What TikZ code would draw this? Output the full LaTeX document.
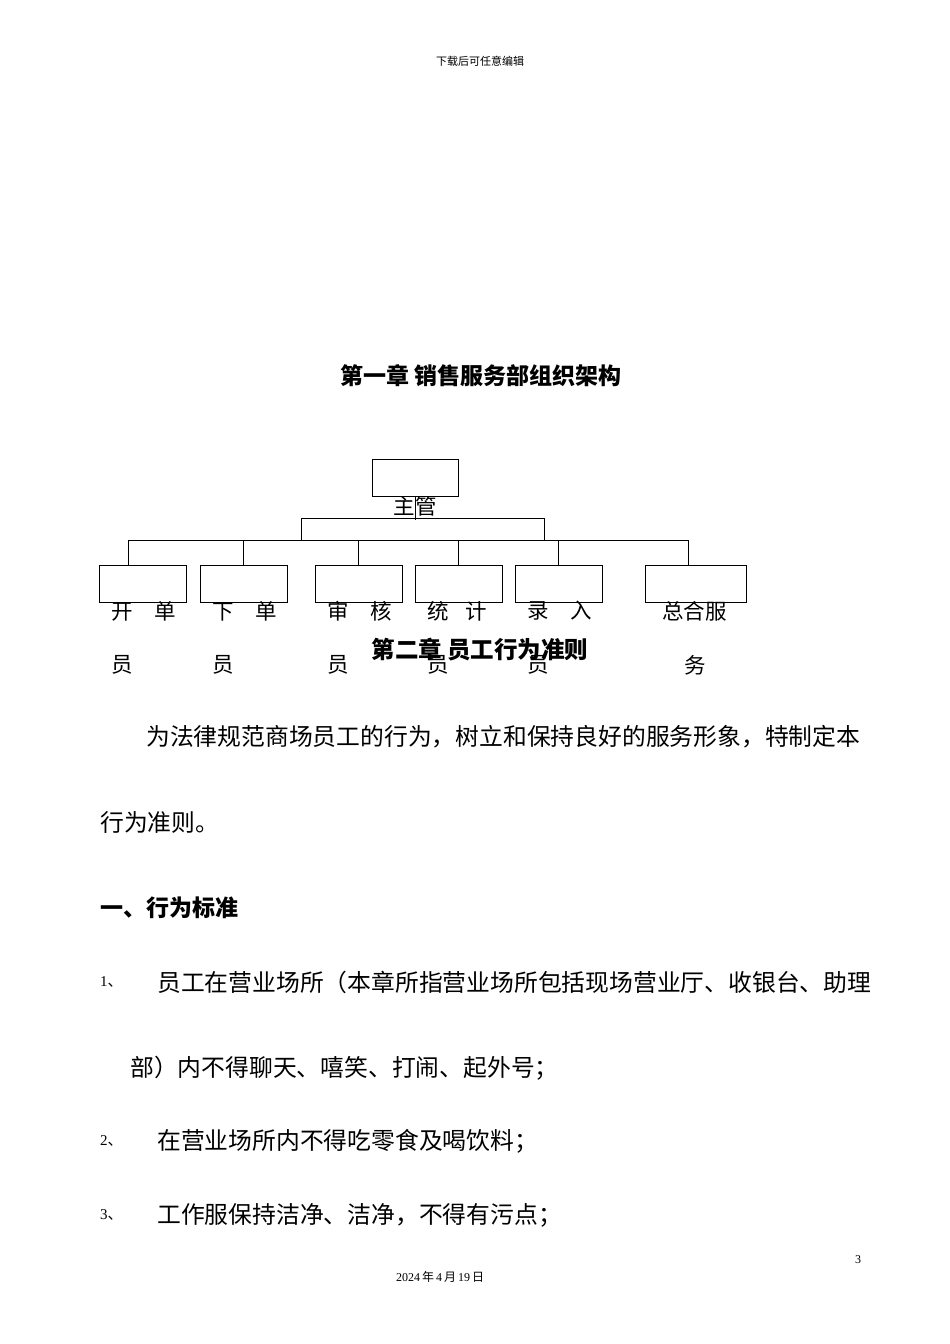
\documentclass[tikz,border=0pt]{standalone}
\usepackage{fontspec}
\setmainfont{Liberation Serif}
\newfontfamily\cjk{Noto Sans CJK SC}
\begin{document}
\begin{tikzpicture}[x=1pt,y=-1pt,
  bx/.style={draw,line width=0.9pt,inner sep=0pt,anchor=north west},
  ln/.style={line width=0.9pt},
  body/.style={font=\cjk\fontsize{23.8}{23.8}\selectfont,inner sep=0pt},
  lbl/.style={font=\cjk\fontsize{21.5}{21.5}\selectfont,inner sep=0pt},
  num/.style={font=\fontsize{15}{15}\selectfont,inner sep=0pt,anchor=west}]
\useasboundingbox[fill=white] (0,0) rectangle (950,1344);
\node[font=\cjk\fontsize{11}{11}\selectfont] (hd) at (480,61) {下载后可任意编辑};
\node[font=\cjk\bfseries\fontsize{23}{23}\selectfont] (t1) at (481,376) {第一章 销售服务部组织架构};
% org chart
\node[bx,minimum width=86pt,minimum height=37pt] (top) at (372,459) {};
\node[lbl] (topl) at (415,506) {主管};
\coordinate (tj) at (top.south |- 0,520);
\draw[ln] (top.south) -- (tj);
\coordinate (ua) at (301,518); \coordinate (ub) at (544,518);
\draw[ln] (ua) -- (ub);
\coordinate (ua2) at (301,541); \coordinate (ub2) at (544,541);
\draw[ln] (ua) -- (ua2); \draw[ln] (ub) -- (ub2);
\coordinate (la) at (128,540); \coordinate (lb) at (688,540);
\draw[ln] (la) -- (lb);
\foreach \n/\x/\w/\c/\a/\b/\o/\p in {b1/99/87/128/开\hspace{1em}单/员/12/12, b2/200/87/243/下\hspace{1em}单/员/12/12, b3/315/87/358/审\hspace{1em}核/员/12/12, b4/415/87/458/统\hspace{0.8em}计/员/12/12, b5/515/87/558/录\hspace{1em}入/员/12/12, b6/645/101/688/总合服/务/17/39}{
  \node[bx,minimum width=\w pt,minimum height=37pt] (\n) at (\x,565) {};
  \coordinate (\n t) at (\c,540);
  \draw[ln] (\n t) -- (\c,565);
  \node[lbl,anchor=west] (\n l1) at (\x+\o,611) {\a};
  \node[lbl,anchor=west] (\n l2) at (\x+\p,665) {\b};
}
\node[font=\cjk\bfseries\fontsize{23.5}{23.5}\selectfont] (t2) at (480,650) {第二章\ 员工行为准则};
% body
\node[body,anchor=west] (p1) at (146,737) {为法律规范商场员工的行为，树立和保持良好的服务形象，特制定本};
\node[body,anchor=west] (p2) at (100,822) {行为准则。};
\node[anchor=west,inner sep=0pt,font=\cjk\bfseries\fontsize{23}{23}\selectfont] (s1) at (100,908) {一、行为标准};
\node[num] (n1) at (100,982) {1{\cjk 、}};
\node[body,anchor=west] (i1) at (157,982) {员工在营业场所（本章所指营业场所包括现场营业厅、收银台、助理};
\node[body,anchor=west] (i1b) at (130,1068) {部）内不得聊天、嘻笑、打闹、起外号；};
\node[num] (n2) at (100,1141) {2{\cjk 、}};
\node[body,anchor=west] (i2) at (157,1141) {在营业场所内不得吃零食及喝饮料；};
\node[num] (n3) at (100,1215) {3{\cjk 、}};
\node[body,anchor=west] (i3) at (157,1215) {工作服保持洁净、洁净，不得有污点；};
\node[font=\fontsize{12}{12}\selectfont] (pg) at (858,1260) {3};
\node[font=\fontsize{12}{12}\selectfont] (dt) at (440,1277) {2024\,{\cjk 年}\,4\,{\cjk 月}\,19\,{\cjk 日}};
\end{tikzpicture}
\end{document}
